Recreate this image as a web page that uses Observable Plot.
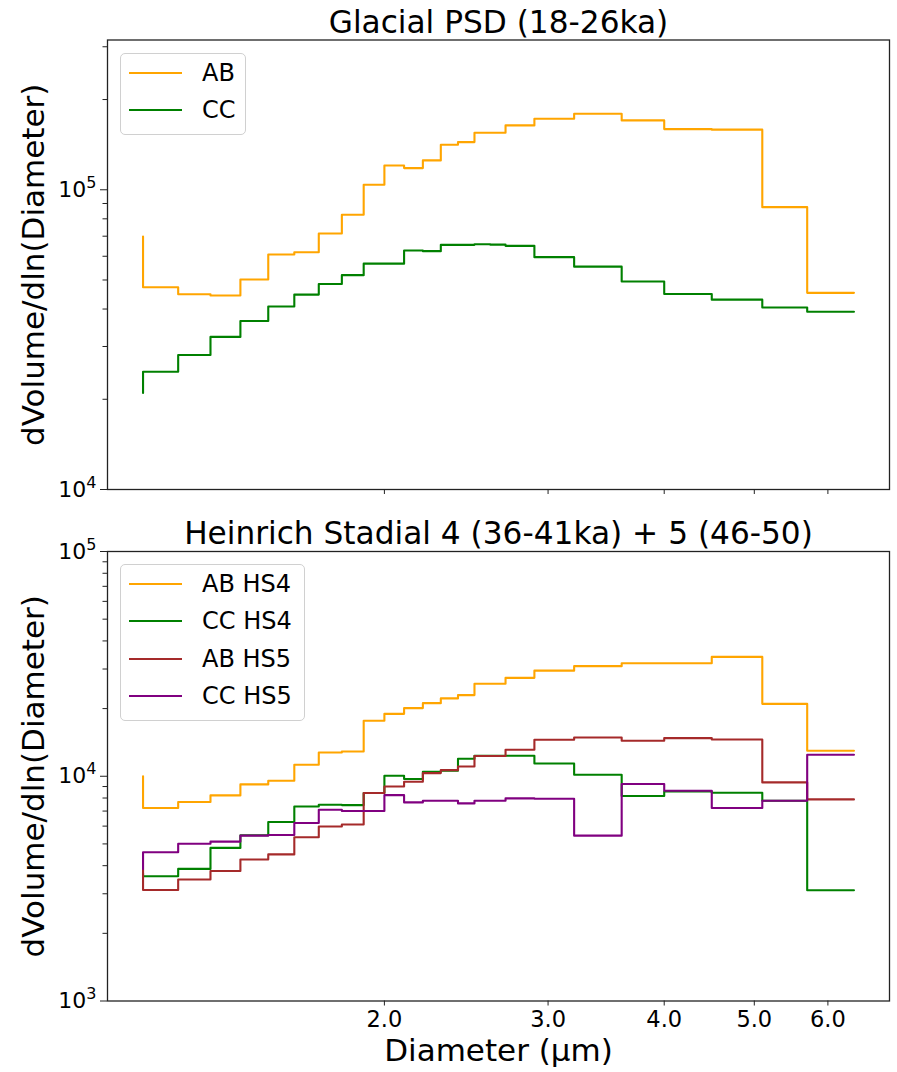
<!DOCTYPE html>
<html>
<head>
<meta charset="utf-8">
<script src="https://cdn.jsdelivr.net/npm/d3@7"></script>
<script src="https://cdn.jsdelivr.net/npm/@observablehq/plot@0.6"></script>
<style>
  body { margin: 0; background: #fff; font-family: "DejaVu Sans", sans-serif; }
  #fig { position: relative; width: 897px; height: 1072px; overflow: hidden; }
  #fig svg { position: absolute; left: 0; display: block; }
  .legend { position: absolute; box-sizing: border-box; border: 1px solid #d0d0d0; border-radius: 5px; background: rgba(255,255,255,0.8); }
  .legend .swatch { position: absolute; height: 0; border-top: 2.1px solid; }
  .legend .lab { position: absolute; font-size: 24px; line-height: 24px; color: #000; white-space: nowrap; }
</style>
</head>
<body>
<div id="fig"></div>
<script>
// Bin upper edges of the size distribution (µm); the first value starts each step trace.
const diameter = [1.1, 1.2, 1.3, 1.4, 1.5, 1.6, 1.7, 1.8, 1.9, 2.0, 2.1, 2.2, 2.3, 2.4, 2.5, 2.6, 2.7, 2.9, 3.2, 3.6, 4.0, 4.5, 5.1, 5.7, 6.4];

// Glacial PSD (18-26 ka)
const glacialAB = [69800, 47300, 44800, 44400, 50200, 60800, 61900, 71500, 82500, 103900, 120500, 118100, 125300, 141400, 144200, 155000, 155000, 164000, 172600, 179400, 170400, 159400, 158700, 87500, 45300];
const glacialCC = [21000, 24700, 28100, 32300, 36500, 40800, 44700, 48500, 51900, 56700, 56700, 62700, 62400, 65500, 65500, 65800, 65600, 65000, 59600, 55400, 49400, 44900, 43000, 40500, 39200];

// Heinrich Stadial 4 (36-41 ka) and 5 (46-50 ka)
const hs4AB = [10000, 7220, 7680, 8220, 9200, 9550, 11250, 12760, 12890, 17650, 18950, 20100, 21150, 22200, 22960, 25800, 25800, 27400, 29500, 30900, 31850, 31850, 33970, 21000, 12980];
const hs4CC = [3700, 3590, 3870, 4800, 5460, 6260, 7340, 7470, 7440, 8420, 10050, 9720, 10470, 10580, 11960, 12340, 12340, 12340, 11400, 10150, 8170, 8560, 8450, 7780, 3110];
const hs5AB = [3880, 3120, 3470, 3790, 4260, 4490, 5350, 5980, 6100, 8420, 9010, 9450, 10330, 10650, 11050, 12300, 12300, 13110, 14530, 14870, 14380, 14780, 14570, 9390, 7890];
const hs5CC = [3870, 4590, 5010, 5120, 5440, 5480, 6190, 7100, 7000, 7000, 8240, 7650, 7780, 7780, 7570, 7780, 7780, 7970, 7940, 5440, 9230, 8620, 7220, 7780, 12460];

const topNames = ["AB", "CC"];
const topColors = ["orange", "green"];
const bottomNames = ["AB HS4", "CC HS4", "AB HS5", "CC HS5"];
const bottomColors = ["orange", "green", "brown", "purple"];

const xTicks = [2, 3, 4, 5, 6];
const minorSteps = [2, 3, 4, 5, 6, 7, 8, 9];
const topTitle = "Glacial PSD (18-26ka)";
const bottomTitle = "Heinrich Stadial 4 (36-41ka) + 5 (46-50)";
const yLabel = "dVolume/dln(Diameter)";
const xLabel = "Diameter (µm)";

const W = 897;
const FONT = "DejaVu Sans";
const INK = "#222";
const powFmt = v => "10^" + Math.round(Math.log10(v));

// x extent: 5% padding in log space around the bin edges
const lo = diameter[0], hi = diameter[diameter.length - 1];
const pad = 0.05 * Math.log(hi / lo);
const xDomain = [lo * Math.exp(-pad), hi * Math.exp(pad)];

// turn "10^k" tick labels into a base with a raised exponent
function superscripts(svg) {
  svg.querySelectorAll("text").forEach(t => {
    const m = /^10\^(\d+)$/.exec(t.textContent);
    if (!m) return;
    t.textContent = "10";
    const s = document.createElementNS("http://www.w3.org/2000/svg", "tspan");
    s.setAttribute("font-size", "16");
    s.setAttribute("dy", "-9");
    s.textContent = m[1];
    t.appendChild(s);
  });
}

function panel({values, colors, yDomain, decades, title, bottomAxis, height, mt, mb, top}) {
  const majors = decades.map(k => 10 ** k);
  const minors = decades.flatMap(k => minorSteps.map(s => s * 10 ** k))
    .filter(v => v > yDomain[0] && v < yDomain[1]);
  const marks = [];
  values.forEach((vals, j) => {
    const rows = diameter.map((d, i) => ({d, v: vals[i]}));
    marks.push(Plot.line(rows, {x: "d", y: "v", curve: "step-before", stroke: colors[j], strokeWidth: 2.1}));
  });
  marks.push(
    Plot.frame({stroke: INK, strokeWidth: 1.3}),
    Plot.axisY({ticks: minors, tickFormat: () => "", tickSize: 4.5, stroke: INK, label: null}),
    Plot.axisY({ticks: majors, tickFormat: powFmt, tickSize: 7, tickPadding: 4, fontSize: 22, fill: "#000", stroke: INK, label: null}),
    Plot.axisX({ticks: xTicks, tickFormat: bottomAxis ? (d => d.toFixed(1)) : (() => ""), tickSize: 5, tickPadding: 5, fontSize: 22.5, fill: "#000", stroke: INK, label: null}),
    Plot.text([title], {text: d => d, frameAnchor: "top", lineAnchor: "bottom", dy: -7.5, fontSize: 31.2, fill: "#000"}),
    Plot.text([yLabel], {text: d => d, frameAnchor: "left", textAnchor: "middle", dx: -73, rotate: -90, fontSize: 31, fill: "#000"})
  );
  if (bottomAxis) {
    marks.push(Plot.text([xLabel], {text: d => d, frameAnchor: "bottom", lineAnchor: "bottom", dy: 60, fontSize: 31, fill: "#000"}));
  }
  const svg = Plot.plot({
    width: W, height,
    marginTop: mt, marginBottom: mb, marginLeft: 107, marginRight: 8,
    style: {fontFamily: FONT, background: "transparent", overflow: "visible"},
    x: {type: "log", domain: xDomain},
    y: {type: "log", domain: yDomain},
    marks
  });
  superscripts(svg);
  svg.style.top = top + "px";
  return svg;
}

function legend(names, colors, box) {
  const el = document.createElement("div");
  el.className = "legend";
  Object.assign(el.style, {left: box.x + "px", top: box.y + "px", width: box.w + "px", height: box.h + "px"});
  names.forEach((n, i) => {
    const cy = 19.5 + i * 37.4;
    const sw = document.createElement("div");
    sw.className = "swatch";
    Object.assign(sw.style, {left: "8px", width: "53px", top: (cy - 1) + "px", borderTopColor: colors[i]});
    const lab = document.createElement("div");
    lab.className = "lab";
    lab.textContent = n;
    Object.assign(lab.style, {left: "81px", top: (cy - 12) + "px"});
    el.append(sw, lab);
  });
  return el;
}

const fig = document.getElementById("fig");
fig.append(
  panel({values: [glacialAB, glacialCC], colors: topColors,
         yDomain: [1e4, 3.16e5], decades: [4, 5], title: topTitle,
         bottomAxis: false, height: 520, mt: 39.5, mb: 31, top: 0}),
  panel({values: [hs4AB, hs4CC, hs5AB, hs5CC], colors: bottomColors,
         yDomain: [1e3, 1e5], decades: [3, 4, 5], title: bottomTitle,
         bottomAxis: true, height: 552, mt: 31, mb: 71.5, top: 520}),
  legend(topNames, topColors, {x: 120, y: 52.5, w: 126, h: 82}),
  legend(bottomNames, bottomColors, {x: 120, y: 563.5, w: 185, h: 157})
);
</script>
</body>
</html>
